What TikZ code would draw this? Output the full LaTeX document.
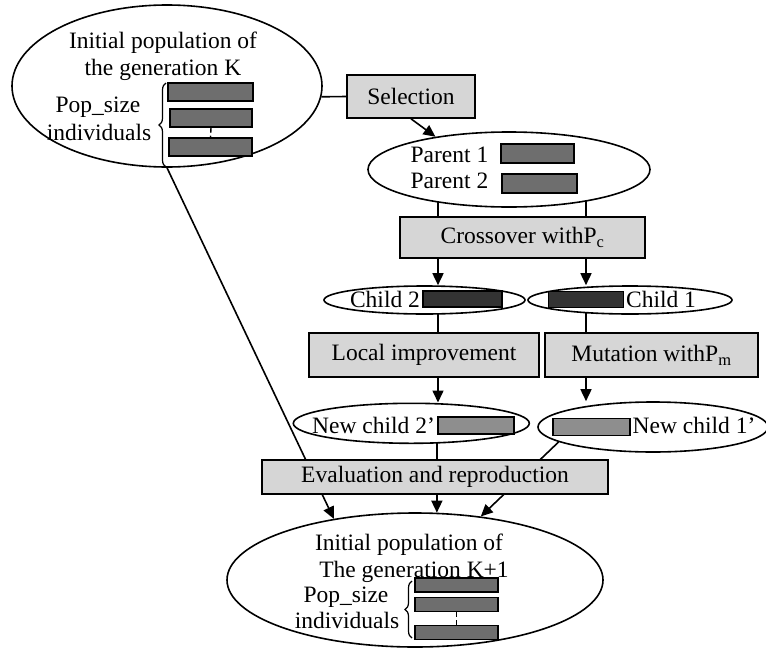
\documentclass[tikz,border=0pt]{standalone}
\usepackage{fontspec}
\setmainfont{Liberation Serif}
\usetikzlibrary{shapes.geometric,arrows.meta,backgrounds,decorations.pathreplacing}
\definecolor{boxgray}{HTML}{D6D6D6}
\definecolor{popgray}{HTML}{6E6E6E}
\definecolor{childgray}{HTML}{333333}
\definecolor{newgray}{HTML}{8E8E8E}
\begin{document}
\begin{tikzpicture}[x=1pt,y=-1pt,
  font=\fontsize{23.5}{27}\selectfont,
  ell/.style={ellipse,draw,line width=1.6pt,fill=white,inner sep=0pt},
  stepbox/.style={rectangle,draw,line width=1.6pt,fill=boxgray,inner sep=0pt,minimum height=43pt},
  gene/.style={rectangle,draw,line width=1.5pt,inner sep=0pt},
  txt/.style={inner sep=0pt,anchor=base},
  con/.style={line width=1.6pt},
  arr/.style={line width=1.6pt,-{Triangle[length=12pt,width=11pt]}},
  brc/.style={line width=1.2pt,decorate,decoration={brace,amplitude=7pt}}]
\useasboundingbox (0,0) rectangle (766,648);
\coordinate (colL) at (438,0);
\coordinate (colR) at (586,0);
% ---- top population ellipse
\node[ell,minimum width=310pt,minimum height=162pt] (top) at (167,86) {};
\node[txt] (t1) at (163,48) {Initial population of};
\node[txt] (t2) at (163,75) {the generation K};
\node[txt] (t3) at (98,112) {Pop\_size};
\node[txt] (t4) at (99,140) {individuals};
\node[gene,fill=popgray,minimum width=85pt,minimum height=18pt] (r1) at (210.5,92) {};
\node[gene,fill=popgray,minimum width=82pt,minimum height=18pt] (r2) at (211,118) {};
\node[gene,fill=popgray,minimum width=83pt,minimum height=18pt] (r3) at (210.5,147) {};
\draw[line width=1.4pt,dash pattern=on 5pt off 3pt] (r2.south) -- (r3.north);
\draw[brc] (166,167) -- (166,83);
% ---- selection
\node[stepbox,minimum width=128pt] (sel) at (411,96.5) {Selection};
% ---- parents
\node[ell,minimum width=282pt,minimum height=75pt] (par) at (509,169.5) {};
\node[txt] (p1) at (449.5,162) {Parent 1};
\node[txt] (p2) at (449.5,188) {Parent 2};
\node[gene,fill=popgray,minimum width=73pt,minimum height=19pt] (pr1) at (537.5,153.5) {};
\node[gene,fill=popgray,minimum width=75pt,minimum height=19pt] (pr2) at (539.5,183.5) {};
% ---- crossover
\node[stepbox,minimum width=245pt,minimum height=41pt] (cross) at (522.5,237.5) {Crossover withP\textsubscript{c}\hspace{48pt}};
% ---- children
\node[ell,minimum width=201pt,minimum height=28pt] (c2) at (424.5,300) {};
\node[txt] (c2t) at (385,307) {Child 2};
\node[gene,fill=childgray,minimum width=79pt,minimum height=16pt] (c2r) at (462.5,299) {};
\node[ell,minimum width=204pt,minimum height=28pt] (c1) at (630,300) {};
\node[txt] (c1t) at (661,307) {Child 1};
\node[gene,fill=childgray,minimum width=75pt,minimum height=16pt] (c1r) at (586,299.5) {};
% ---- local improvement / mutation
\node[stepbox,minimum width=230pt,minimum height=44pt] (loc) at (424,355) {Local improvement};
\node[stepbox,minimum width=213pt,minimum height=44pt] (mut) at (651.5,355) {Mutation withP\textsubscript{m}};
% ---- new children
\node[ell,minimum width=236pt,minimum height=40pt] (nc2) at (411.3,423.3) {};
\node[txt] (nc2t) at (373.5,433) {New child 2’};
\node[gene,fill=newgray,minimum width=76pt,minimum height=17pt] (nc2r) at (476,425.3) {};
\node[ell,minimum width=230pt,minimum height=50pt] (nc1) at (653,427) {};
\node[txt] (nc1t) at (694,433) {New child 1’};
\node[gene,fill=newgray,minimum width=77pt,minimum height=17pt] (nc1r) at (591.3,427) {};
% ---- evaluation
\node[stepbox,minimum width=346pt,minimum height=34pt] (eval) at (435,477) {Evaluation and reproduction};
% ---- bottom population ellipse
\node[ell,minimum width=376pt,minimum height=134pt] (bot) at (415,580) {};
\node[txt] (b1) at (409,550) {Initial population of};
\node[txt] (b2) at (414,577) {The generation K+1};
\node[txt] (b3) at (346,602) {Pop\_size};
\node[txt] (b4) at (347,628) {individuals};
\node[gene,fill=popgray,minimum width=83pt,minimum height=14pt] (q1) at (456.5,585) {};
\node[gene,fill=popgray,minimum width=83pt,minimum height=14pt] (q2) at (456.5,604.5) {};
\node[gene,fill=popgray,minimum width=83pt,minimum height=14pt] (q3) at (456.5,632.5) {};
\draw[line width=1.4pt,dash pattern=on 5pt off 3pt] (q2.south) -- (q3.north);
\draw[brc] (412,638) -- (412,581);
% ---- connectors
\begin{scope}[on background layer]
\draw[con] (top.-4) -- (sel.west);
\draw[arr] (sel.south) -- (par.156);
\draw[con] (par.center -| colL) -- (cross.north -| colL);
\draw[con] (par.center -| colR) -- (cross.north -| colR);
\draw[arr] (cross.south -| colL) -- (c2.north -| colL);
\draw[arr] (cross.south -| colR) -- (c1.north -| colR);
\draw[con] (c2.center -| colL) -- (loc.north -| colL);
\draw[con] (c1.center -| colR) -- (mut.north -| colR);
\draw[arr] (loc.south -| colL) -- (nc2.north -| colL);
\draw[arr] (mut.south -| colR) -- (nc1.north -| colR);
\draw[arr] (top.south) -- (bot.143);
\draw[arr] (nc2.center -| bot.72) -- (bot.72);
\draw[arr] (nc1.189) -- (bot.44.5);
\end{scope}
\end{tikzpicture}
\end{document}
